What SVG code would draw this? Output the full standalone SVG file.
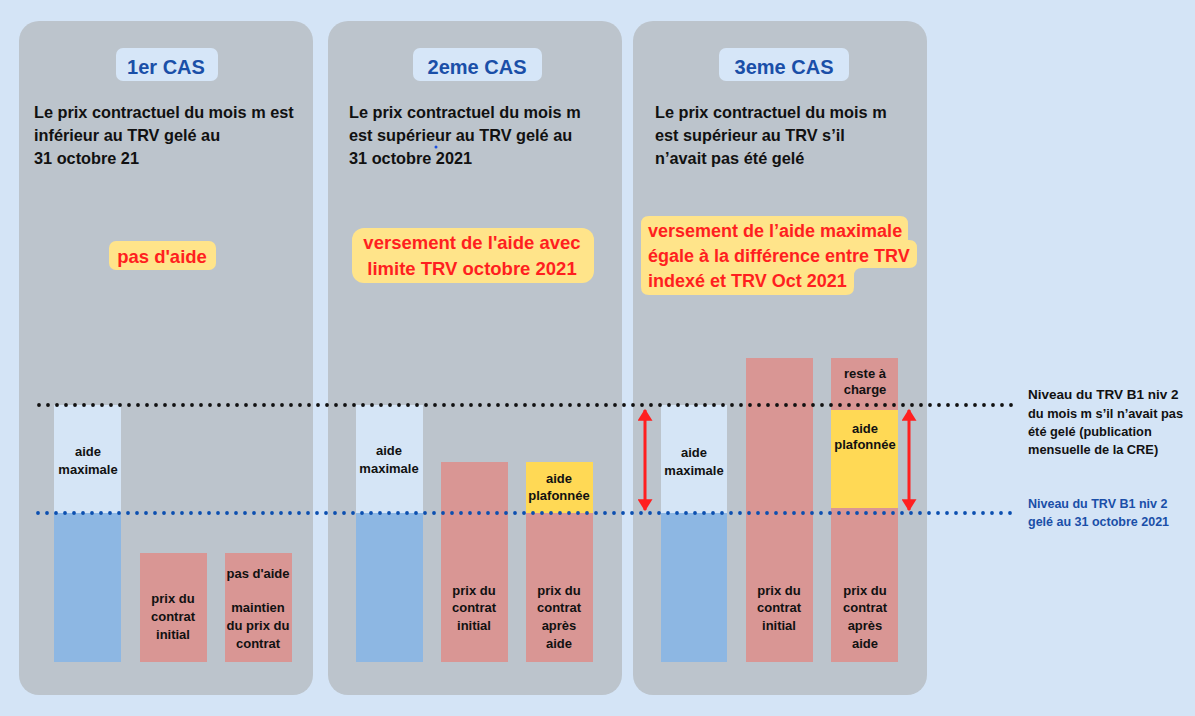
<svg xmlns="http://www.w3.org/2000/svg" width="1195" height="716" viewBox="0 0 1195 716">
<style>
.panel{fill:#bcc4cc}
.pill{fill:#d6e6f8}
.title{font-family:"Liberation Sans",Arial,sans-serif;font-weight:bold;font-size:20px;fill:#1a4fa8;text-anchor:middle}
.body{font-family:"Liberation Sans",Arial,sans-serif;font-weight:bold;font-size:16.3px;fill:#111}
.hl{fill:#ffe48a}
.red{font-family:"Liberation Sans",Arial,sans-serif;font-weight:bold;font-size:18.5px;fill:#ff1f1f}
.lbl{font-family:"Liberation Sans",Arial,sans-serif;font-weight:bold;font-size:13px;fill:#111;text-anchor:middle}
.light{fill:#d5e5f6}
.blue{fill:#8db7e3}
.pink{fill:#d99694}
.yel{fill:#ffd955}
.dotk{stroke:#111;stroke-width:3.8;stroke-linecap:round;stroke-dasharray:0 9;fill:none}
.dotb{stroke:#0b4fb0;stroke-width:3.8;stroke-linecap:round;stroke-dasharray:0 9;fill:none}
.arr{stroke:#ff1f1f;stroke-width:3;fill:none;marker-start:url(#ah);marker-end:url(#ah)}
.rk{font-family:"Liberation Sans",Arial,sans-serif;font-weight:bold;font-size:13.5px;fill:#111}
.rb{font-family:"Liberation Sans",Arial,sans-serif;font-weight:bold;font-size:12.5px;fill:#1a4fa8}
</style>
<defs>
<marker id="ah" viewBox="0 0 10 10" refX="9" refY="5" markerWidth="4" markerHeight="5" orient="auto-start-reverse" preserveAspectRatio="none">
<path d="M0,0 L10,5 L0,10 z" fill="#ff1f1f"/>
</marker>
</defs>
<rect x="0" y="0" width="1195" height="716" fill="#d4e4f6"/>

<g id="panel1">
<rect class="panel" x="19" y="21" width="294" height="674" rx="20"/>
<rect class="pill" x="116" y="48" width="102" height="33" rx="7"/>
<text class="title" x="166" y="74">1er CAS</text>
<text class="body" x="34" y="118">Le prix contractuel du mois m est</text>
<text class="body" x="34" y="141">inférieur au TRV gelé au</text>
<text class="body" x="34" y="164">31 octobre 21</text>
<rect class="hl" x="109" y="241" width="107" height="29" rx="7"/>
<text class="red" x="162" y="263" text-anchor="middle">pas d'aide</text>
<rect class="light" x="54" y="405" width="67" height="108"/>
<rect class="blue" x="54" y="513" width="67" height="149"/>
<text class="lbl" x="88" y="456">aide</text>
<text class="lbl" x="88" y="474">maximale</text>
<rect class="pink" x="140" y="553" width="67" height="109"/>
<text class="lbl" x="173" y="603">prix du</text>
<text class="lbl" x="173" y="621">contrat</text>
<text class="lbl" x="173" y="639">initial</text>
<rect class="pink" x="225" y="553" width="67" height="109"/>
<text class="lbl" x="258" y="578">pas d'aide</text>
<text class="lbl" x="258" y="612">maintien</text>
<text class="lbl" x="258" y="630">du prix du</text>
<text class="lbl" x="258" y="648">contrat</text>
</g>

<g id="panel2">
<rect class="panel" x="328" y="21" width="294" height="674" rx="20"/>
<rect class="pill" x="413" y="48" width="129" height="33" rx="7"/>
<text class="title" x="477" y="74">2eme CAS</text>
<text class="body" x="349" y="118">Le prix contractuel du mois m</text>
<text class="body" x="349" y="141">est supérieur au TRV gelé au</text>
<text class="body" x="349" y="164">31 octobre 2021</text>
<circle cx="436" cy="147" r="1.5" fill="#1a4fe0"/>
<rect class="hl" x="352" y="228" width="242" height="55" rx="12"/>
<text class="red" x="472" y="249" text-anchor="middle">versement de l'aide avec</text>
<text class="red" x="472" y="275" text-anchor="middle">limite TRV octobre 2021</text>
<rect class="light" x="356" y="405" width="67" height="108"/>
<rect class="blue" x="356" y="513" width="67" height="149"/>
<text class="lbl" x="389" y="455">aide</text>
<text class="lbl" x="389" y="473">maximale</text>
<rect class="pink" x="441" y="462" width="67" height="200"/>
<text class="lbl" x="474" y="595">prix du</text>
<text class="lbl" x="474" y="612">contrat</text>
<text class="lbl" x="474" y="630">initial</text>
<rect class="yel" x="526" y="462" width="67" height="51"/>
<rect class="pink" x="526" y="513" width="67" height="149"/>
<text class="lbl" x="559" y="483">aide</text>
<text class="lbl" x="559" y="500">plafonnée</text>
<text class="lbl" x="559" y="595">prix du</text>
<text class="lbl" x="559" y="612">contrat</text>
<text class="lbl" x="559" y="630">après</text>
<text class="lbl" x="559" y="648">aide</text>
</g>

<g id="panel3">
<rect class="panel" x="633" y="21" width="294" height="674" rx="20"/>
<rect class="pill" x="719" y="48" width="130" height="33" rx="7"/>
<text class="title" x="784" y="74">3eme CAS</text>
<text class="body" x="655" y="118">Le prix contractuel du mois m</text>
<text class="body" x="655" y="141">est supérieur au TRV s’il</text>
<text class="body" x="655" y="164">n’avait pas été gelé</text>
<path class="hl" d="M649,216 H900 Q908,216 908,224 V240 H909 Q917,240 917,248 V260 Q917,268 909,268 H862 Q854,268 854,276 V287 Q854,295 846,295 H649 Q641,295 641,287 V224 Q641,216 649,216 Z"/>
<text class="red" x="648" y="237" style="font-size:18px">versement de l’aide maximale</text>
<text class="red" x="648" y="262" style="font-size:18px">égale à la différence entre TRV</text>
<text class="red" x="648" y="287" style="font-size:18px">indexé et TRV Oct 2021</text>
<rect class="light" x="661" y="405" width="66" height="108"/>
<rect class="blue" x="661" y="513" width="66" height="149"/>
<text class="lbl" x="694" y="457">aide</text>
<text class="lbl" x="694" y="475">maximale</text>
<rect class="pink" x="746" y="358" width="67" height="304"/>
<text class="lbl" x="779" y="595">prix du</text>
<text class="lbl" x="779" y="612">contrat</text>
<text class="lbl" x="779" y="630">initial</text>
<rect class="pink" x="831" y="358" width="67" height="304"/>
<rect class="yel" x="831" y="410" width="67" height="98"/>
<text class="lbl" x="865" y="378">reste à</text>
<text class="lbl" x="865" y="394">charge</text>
<text class="lbl" x="865" y="433">aide</text>
<text class="lbl" x="865" y="449">plafonnée</text>
<text class="lbl" x="865" y="595">prix du</text>
<text class="lbl" x="865" y="612">contrat</text>
<text class="lbl" x="865" y="630">après</text>
<text class="lbl" x="865" y="648">aide</text>
</g>

<g id="connectors">
<line class="dotk" x1="39" y1="405" x2="1015" y2="405"/>
<line class="dotb" x1="38" y1="513" x2="1015" y2="513"/>
<line class="arr" x1="645" y1="410" x2="645" y2="510"/>
<line class="arr" x1="909" y1="410" x2="909" y2="510"/>
</g>

<g id="legend">
<text class="rk" x="1028" y="399">Niveau du TRV B1 niv 2</text>
<text class="rk" x="1028" y="418" style="font-size:12.8px">du mois m s’il n’avait pas</text>
<text class="rk" x="1028" y="436" style="font-size:12.8px">été gelé (publication</text>
<text class="rk" x="1028" y="454" style="font-size:12.8px">mensuelle de la CRE)</text>
<text class="rb" x="1028" y="508">Niveau du TRV B1 niv 2</text>
<text class="rb" x="1028" y="526">gelé au 31 octobre 2021</text>
</g>
</svg>
